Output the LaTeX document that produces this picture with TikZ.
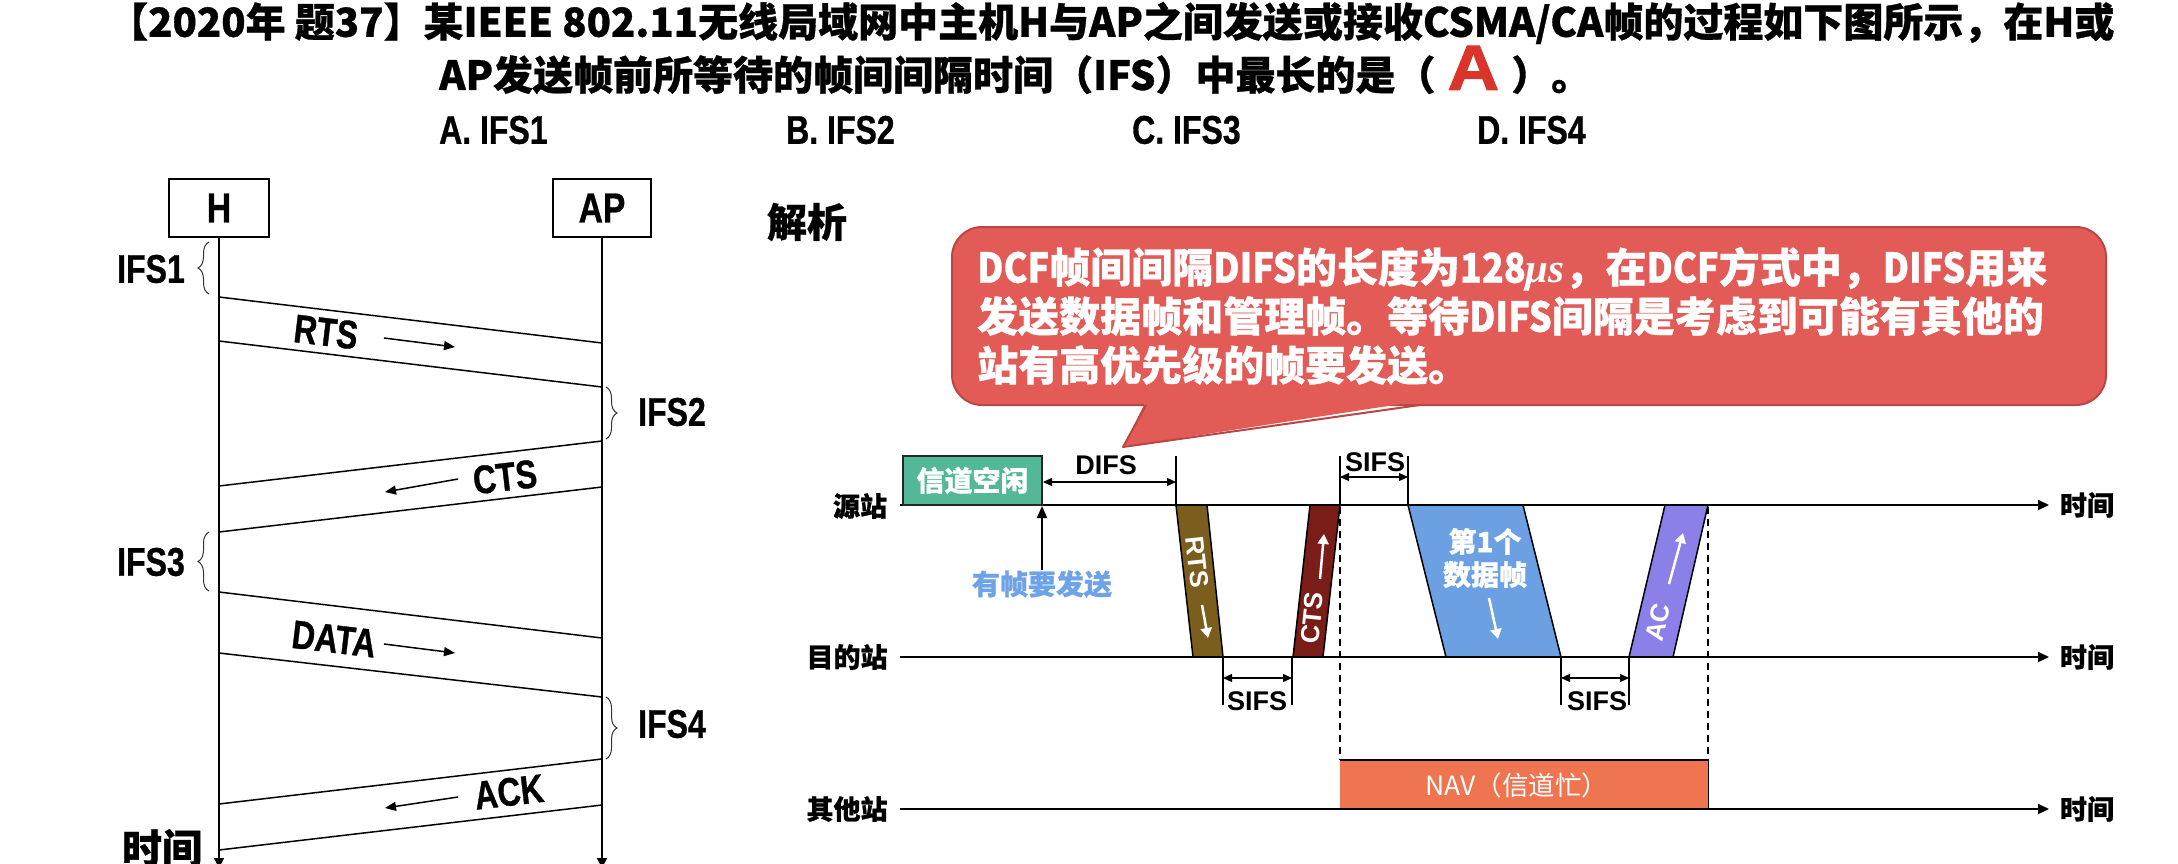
\documentclass[tikz,border=0pt]{standalone}
\usepackage{fontspec}
\usepackage{graphicx}
\setmainfont{Noto Sans CJK SC}[BoldFeatures={FakeBold=0.8}]
\newfontfamily\nar{Liberation Sans Bold}[FakeStretch=0.8, FakeBold=0.8]
\newfontfamily\ari{Liberation Sans}
\newfontfamily\heavy{Liberation Sans Bold}[FakeBold=1.5]
\newfontfamily\serit{Liberation Serif}
\usetikzlibrary{arrows.meta,decorations.pathreplacing}
\definecolor{calloutred}{HTML}{E25B57}
\definecolor{calloutedge}{HTML}{B94744}
\definecolor{idlegreen}{HTML}{52B898}
\definecolor{rtsbrown}{HTML}{7B5E1E}
\definecolor{ctsred}{HTML}{7A1C18}
\definecolor{datablue}{HTML}{6BA0E3}
\definecolor{acpurple}{HTML}{8A80E8}
\definecolor{navorange}{HTML}{EE7550}
\definecolor{hintblue}{HTML}{6FA3E8}
\definecolor{answerred}{HTML}{D9352A}
\newcommand\fsz[1]{\fontsize{#1}{#1}\selectfont}
\newcommand\cz[1]{\scalebox{0.88}[1]{#1}}
\tikzset{
  ttl/.style={inner sep=0pt, font=\bfseries\fsz{40}},
  opt/.style={inner sep=0pt, font=\nar\fsz{40}},
  actor/.style={draw, line width=1.5pt, minimum width=100pt, minimum height=58pt, inner sep=0pt, font=\nar\fsz{42}},
  life/.style={line width=1.5pt, -{Triangle[length=10pt,width=10pt]}},
  msgline/.style={line width=1.5pt},
  msglbl/.style={inner sep=0pt, font=\nar\fsz{40}},
  ifslbl/.style={inner sep=0pt, font=\nar\fsz{40}},
  ifsbrace/.style={decorate, decoration={brace, amplitude=11pt}, line width=1pt, draw=black!80},
  smallarrow/.style={line width=1.5pt, -{Triangle[length=11pt,width=9pt]}},
  stn/.style={inner sep=0pt, font=\bfseries\fsz{27}},
  timeaxis/.style={line width=2pt, -{Triangle[length=11pt,width=10pt]}},
  tickline/.style={line width=1.2pt},
  gaparrow/.style={line width=1.2pt, {Triangle[length=9pt,width=8pt]}-{Triangle[length=9pt,width=8pt]}},
  ifstxt/.style={inner sep=0pt, font=\ari\bfseries\fsz{27}},
  framebar/.style={draw=black, line width=1.5pt},
  bartxt/.style={inner sep=0pt, text=white, font=\ari\bfseries\fsz{26}},
  whitearrow/.style={white, line width=2.5pt, -{Triangle[length=10pt,width=11pt]}},
  navdash/.style={dash pattern=on 7pt off 5pt, line width=1.5pt},
}
\begin{document}
\begin{tikzpicture}[x=1pt,y=-1pt]
\useasboundingbox (0,0) rectangle (2178,864);

% ---------- title ----------
\node[ttl, anchor=west] (t1) at (108,23) {【2020年 题37】某IEEE 802.11无线局域网中主机H与AP之间发送或接收CSMA/CA帧的过程如下图所示，在H或};
\node[ttl, anchor=west] (t2) at (439,70) {AP发送帧前所等待的帧间间隔时间（IFS）中最长的是（\hspace{12pt}{\color{answerred}\heavy\fsz{64}\scalebox{1.12}[1]{A}}\hspace{12pt}）。};
\node[opt, anchor=west] (oa) at (439,130) {A. IFS1};
\node[opt, anchor=west] (ob) at (786,130) {B. IFS2};
\node[opt, anchor=west] (oc) at (1132,130) {C. IFS3};
\node[opt, anchor=west] (od) at (1477,130) {D. IFS4};

% ---------- left sequence diagram ----------
\node[actor] (H) at (219,208) {H};
\node[actor, minimum width=98pt] (AP) at (602,208) {AP};
\coordinate (Hb) at (219,868);
\coordinate (APb) at (602,868);
\draw[life] (H.south) -- (Hb);
\draw[life] (AP.south) -- (APb);

\coordinate (r1) at (219,297); \coordinate (r2) at (602,343);
\coordinate (r3) at (219,341); \coordinate (r4) at (602,387);
\coordinate (c1) at (602,441); \coordinate (c2) at (219,486);
\coordinate (c3) at (602,487); \coordinate (c4) at (219,532);
\coordinate (d1) at (219,592); \coordinate (d2) at (602,638);
\coordinate (d3) at (219,653); \coordinate (d4) at (602,697);
\coordinate (a1) at (602,759); \coordinate (a2) at (219,804);
\coordinate (a3) at (602,805); \coordinate (a4) at (219,850);
\draw[msgline] (r1) -- (r2); \draw[msgline] (r3) -- (r4);
\draw[msgline] (c1) -- (c2); \draw[msgline] (c3) -- (c4);
\draw[msgline] (d1) -- (d2); \draw[msgline] (d3) -- (d4);
\draw[msgline] (a1) -- (a2); \draw[msgline] (a3) -- (a4);

\draw[ifsbrace] (209,294) -- (209,242);
\draw[ifsbrace] (606,387) -- (606,439);
\draw[ifsbrace] (209,591) -- (209,532);
\draw[ifsbrace] (606,697) -- (606,759);
\node[ifslbl] (ifs1) at (151,269) {IFS1};
\node[ifslbl] (ifs2) at (672,412) {IFS2};
\node[ifslbl] (ifs3) at (151,562) {IFS3};
\node[ifslbl] (ifs4) at (672,724) {IFS4};

\node[msglbl, rotate=-6.8] (lrts) at (326,332) {RTS};
\node[msglbl, rotate=6.7] (lcts) at (505,477) {CTS};
\node[msglbl, rotate=-6.8] (ldata) at (334,639) {DATA};
\node[msglbl, rotate=6.7] (lack) at (509,792) {ACK};
\coordinate (ra1) at (384,338); \coordinate (ra2) at (455,347);
\coordinate (ca1) at (458,479); \coordinate (ca2) at (385,492);
\coordinate (da1) at (384,644); \coordinate (da2) at (455,653);
\coordinate (aa1) at (458,797); \coordinate (aa2) at (385,808);
\draw[smallarrow] (ra1) -- (ra2);
\draw[smallarrow] (ca1) -- (ca2);
\draw[smallarrow] (da1) -- (da2);
\draw[smallarrow] (aa1) -- (aa2);
\node[ttl] (ltime) at (162,848) {时间};

% ---------- explanation ----------
\node[ttl] (jx) at (807,222) {解析};
\draw[calloutedge, fill=calloutred, line width=2pt, rounded corners=30pt] (952,227) rectangle (2106,405);
\fill[calloutred] (1146,401) -- (1123,447) -- (1420,401) -- cycle;
\draw[calloutedge, line width=2pt, line join=round] (1146,405) -- (1123,447) -- (1420,405);
\node[anchor=west, align=left, inner sep=0pt, text=white, font=\bfseries\fontsize{41}{49}\selectfont] (expl) at (977,316)
  {\cz{DCF}帧间间隔\cz{DIFS}的长度为\cz{128}{\serit\itshape μs}，在\cz{DCF}方式中，\cz{DIFS}用来\\发送数据帧和管理帧。等待\cz{DIFS}间隔是考虑到可能有其他的\\站有高优先级的帧要发送。};

% ---------- timing diagram ----------
\node[stn] (src) at (860,506) {源站};
\node[stn] (dst) at (847,657) {目的站};
\node[stn] (oth) at (847,809) {其他站};
\coordinate (sA) at (900,505); \coordinate (sB) at (2049,505);
\coordinate (dA) at (900,657); \coordinate (dB) at (2049,657);
\coordinate (oA) at (900,809); \coordinate (oB) at (2049,809);
\node[stn] (tm1) at (2087,505) {时间};
\node[stn] (tm2) at (2087,657) {时间};
\node[stn] (tm3) at (2087,809) {时间};

% frames
\draw[framebar, fill=rtsbrown] (1176,505) -- (1207,505) -- (1223,657) -- (1193,657) -- cycle;
\draw[framebar, fill=ctsred] (1293,657) -- (1323,657) -- (1340,505) -- (1310,505) -- cycle;
\draw[framebar, fill=datablue] (1408,505) -- (1523,505) -- (1561,657) -- (1446,657) -- cycle;
\draw[framebar, fill=acpurple] (1629,657) -- (1673,657) -- (1708,505) -- (1665,505) -- cycle;
\fill[navorange] (1340,760) rectangle (1708,809);
\draw[line width=2.5pt] (1340,760) -- (1708,760);
\draw[line width=1pt] (1708,760) -- (1708,809);

\draw[timeaxis] (sA) -- (sB);
\draw[timeaxis] (dA) -- (dB);
\draw[timeaxis] (oA) -- (oB);

\node[draw=black!85, line width=2pt, fill=idlegreen, minimum width=139pt, minimum height=49pt, inner sep=0pt,
      text=white, font=\bfseries\fsz{28}] (idle) at (972.5,480.5) {信道空闲};

% DIFS
\draw[tickline] (1176,456) -- (1176,505);
\draw[gaparrow] (idle.east |- 0,482) -- (1176,482);
\node[ifstxt] (difs) at (1106,465) {DIFS};

% frame arrival
\node[inner sep=0pt, text=hintblue, font=\bfseries\fsz{28}] (hint) at (1042,584) {有帧要发送};
\coordinate (arrv) at (1042,506);
\draw[line width=2pt, -{Triangle[length=12pt,width=10pt]}] (hint.north) -- (arrv);

% SIFS marks
\draw[tickline] (1340,456) -- (1340,505);
\draw[tickline] (1408,456) -- (1408,505);
\draw[gaparrow] (1340,477) -- (1408,477);
\node[ifstxt] (sifs1) at (1375,462) {SIFS};

\draw[tickline] (1223,657) -- (1223,705);
\draw[tickline] (1292,657) -- (1292,705);
\draw[gaparrow] (1223,678) -- (1292,678);
\node[ifstxt] (sifs2) at (1257,701) {SIFS};

\draw[tickline] (1561,657) -- (1561,705);
\draw[tickline] (1629,657) -- (1629,705);
\draw[gaparrow] (1561,678) -- (1629,678);
\node[ifstxt] (sifs3) at (1597,701) {SIFS};

% dashed NAV bounds
\draw[navdash] (1340,507) -- (1340,760);
\draw[navdash] (1708,507) -- (1708,760);

% labels inside frames
\node[bartxt, rotate=-84] (brts) at (1197,562) {RTS};
\draw[whitearrow] (1202,605) -- (1208,638);
\node[bartxt, rotate=84] (bcts) at (1312,618) {CTS};
\draw[whitearrow] (1320,579) -- (1324,534);
\node[inner sep=0pt, text=white, align=center, font=\bfseries\fontsize{28}{33}\selectfont] (bdata) at (1485,558) {第1个\\数据帧};
\draw[whitearrow] (1489,598) -- (1498,639);
\node[bartxt, rotate=77] (bac) at (1658,622) {AC};
\draw[whitearrow] (1669,584) -- (1683,533);
\node[inner sep=0pt, text=white, font=\fsz{26.5}] (nav) at (1517,785) {NAV（信道忙）};
\end{tikzpicture}
\end{document}
